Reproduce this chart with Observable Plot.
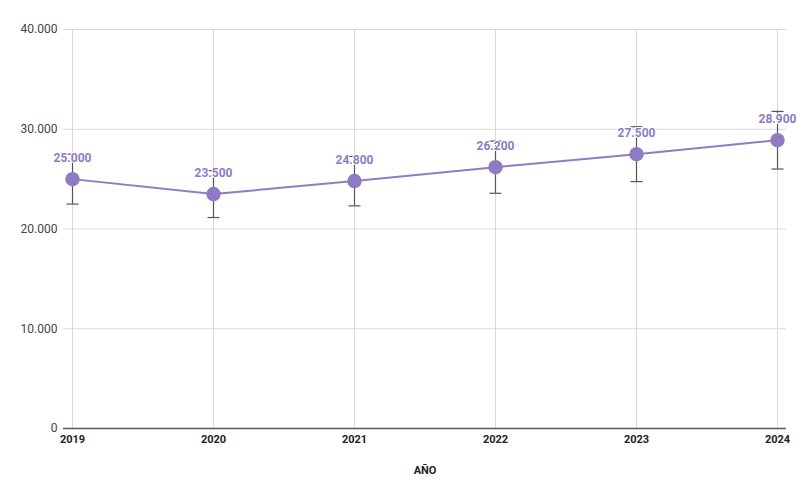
<!DOCTYPE html>
<html>
<head>
<meta charset="utf-8">
<script src="https://cdn.jsdelivr.net/npm/d3@7"></script>
<script src="https://cdn.jsdelivr.net/npm/@observablehq/plot@0.6"></script>
<style>
  html, body { margin: 0; padding: 0; background: #fff; }
  #chart svg { display: block; }
</style>
</head>
<body>
<div id="chart"></div>
<script>
const years = [2019, 2020, 2021, 2022, 2023, 2024];
const values = [25000, 23500, 24800, 26200, 27500, 28900];
const lower = [22500, 21150, 22320, 23580, 24750, 26010];
const upper = [27500, 25850, 27280, 28820, 30250, 31790];
const yTicks = [0, 10000, 20000, 30000, 40000];

const data = years.map((year, i) => ({year, value: values[i], lo: lower[i], hi: upper[i]}));
const locale = d3.formatLocale({decimal: ",", thousands: ".", grouping: [3], currency: ["", "€"]});
const fmt = locale.format(",d");
const purple = "#8e7cc3";
const capSymbol = {draw(ctx) { ctx.moveTo(-6, 0); ctx.lineTo(6, 0); }};

const chart = Plot.plot({
  width: 808,
  height: 500,
  marginLeft: 63,
  marginRight: 22,
  marginTop: 29,
  marginBottom: 72,
  style: {fontFamily: "Roboto, 'Liberation Sans', Arial, sans-serif", background: "#fff"},
  x: {type: "linear", domain: [2019, 2024], insetLeft: 9, insetRight: 9},
  y: {domain: [0, 40000]},
  marks: [
    Plot.gridY(yTicks, {stroke: "#d9d9d9", strokeOpacity: 1}),
    Plot.gridX(years, {stroke: "#d9d9d9", strokeOpacity: 1}),
    Plot.ruleY([0], {stroke: "#5a5a5a", strokeWidth: 1.6}),
    Plot.axisY(yTicks, {tickSize: 0, tickPadding: 6, tickFormat: fmt, fontSize: 12, fill: "#444", label: null}),
    Plot.axisX(years, {tickSize: 0, tickPadding: 7, tickFormat: d => String(d), fontSize: 11, fontWeight: "bold", fill: "#222",
      label: "AÑO", labelAnchor: "center", labelArrow: "none", labelOffset: 45}),
    Plot.line(data, {x: "year", y: "value", stroke: purple, strokeWidth: 2}),
    Plot.ruleX(data, {x: "year", y1: "lo", y2: "hi", stroke: "#555", strokeWidth: 1.2}),
    Plot.dot(data, {x: "year", y: "lo", symbol: capSymbol, stroke: "#555", strokeWidth: 1.2, r: 6}),
    Plot.dot(data, {x: "year", y: "hi", symbol: capSymbol, stroke: "#555", strokeWidth: 1.2, r: 6}),
    Plot.text(data, {x: "year", y: "value", text: d => fmt(d.value), dy: -21, fill: purple, fontWeight: "bold", fontSize: 12,
      stroke: "white", strokeWidth: 2}),
    Plot.dot(data, {x: "year", y: "value", r: 6.5, fill: purple, stroke: purple})
  ]
});
document.getElementById("chart").appendChild(chart);
</script>
</body>
</html>
